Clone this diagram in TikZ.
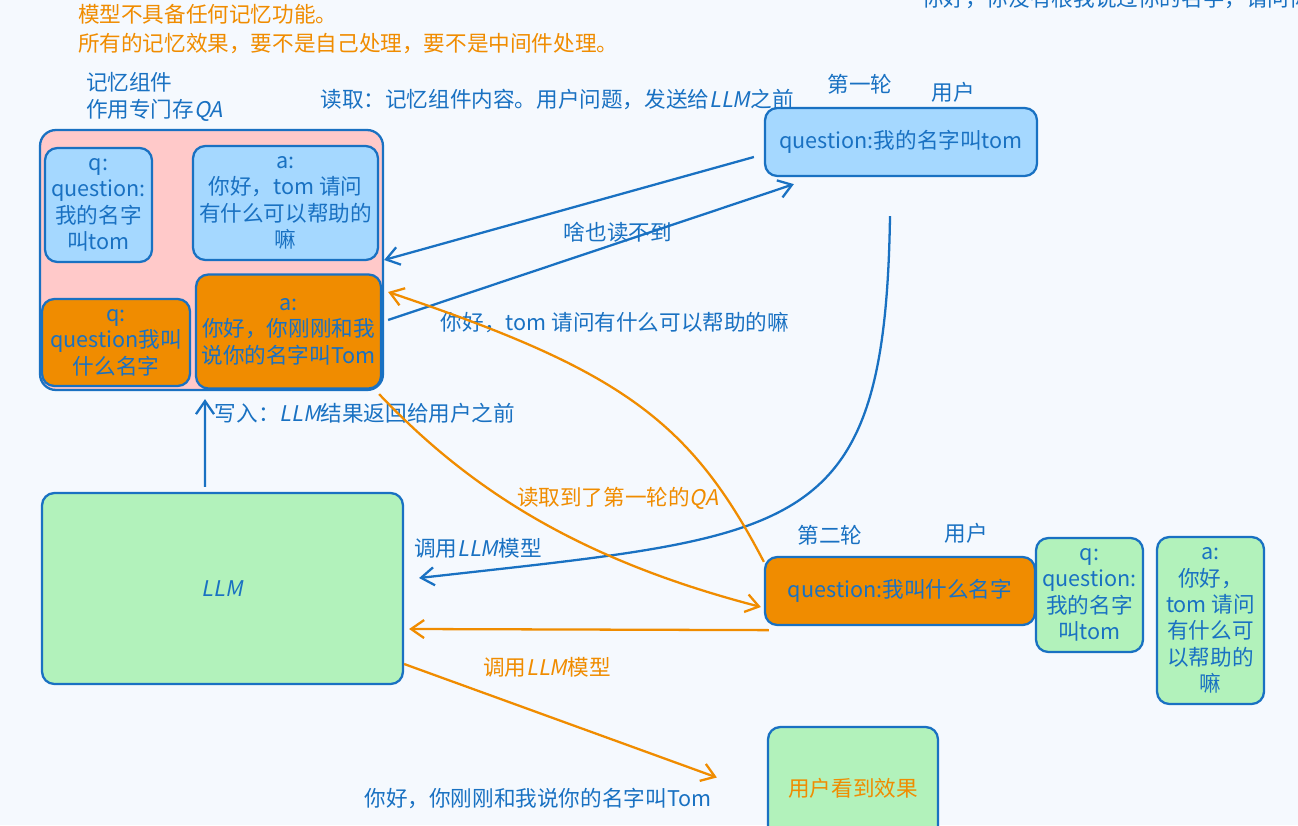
\documentclass[tikz,border=0pt]{standalone}
\usepackage{fontspec}
\setmainfont{Noto Sans CJK SC}[AutoFakeSlant=0.2]
\usepackage{xcolor}
\usepackage{tikz}
\usetikzlibrary{positioning,arrows.meta}
\definecolor{inkblue}{HTML}{1971C2}
\definecolor{inkorange}{HTML}{F08C00}
\definecolor{fillblue}{HTML}{A5D8FF}
\definecolor{fillpink}{HTML}{FFC9C9}
\definecolor{fillgreen}{HTML}{B2F2BB}
\definecolor{paper}{HTML}{F5F9FE}
\newcommand{\llmname}{\textit{LLM}}

\begin{document}
\begin{tikzpicture}[
  x=0.02cm, y=-0.02cm,
  font=\fontsize{12.3pt}{15pt}\selectfont, node distance=2mm,
  card/.style={draw=inkblue, line width=1.3pt, rounded corners=7pt, align=center, inner sep=2pt, text=inkblue},
  lbl/.style={text=inkblue, inner sep=1pt, align=left},
  olbl/.style={text=inkorange, inner sep=1pt, align=left},
  arr/.style={-{Straight Barb[length=2.6mm,width=3.6mm]}, line width=1.3pt, draw=inkblue},
  oarr/.style={arr, draw=inkorange}
]
\useasboundingbox (0,0) rectangle (1298,825);
\fill[paper] (0,0) rectangle (1298,825);

\node[olbl, anchor=west, font=\fontsize{12.3pt}{16.5pt}\selectfont] (notes) at (76,29.5)
  {模型不具备任何记忆功能。\\所有的记忆效果，要不是自己处理，要不是中间件处理。};
\node[lbl, anchor=west] (cut) at (920,-1) {你好，你没有根我说过你的名字，请问你};

% memory component
\node[lbl, anchor=west, font=\fontsize{12.3pt}{15.4pt}\selectfont] (memtitle) at (84,96.5)
  {记忆组件\\作用专门存\textit{QA}};
\node[lbl] (readnote) at (557,100) {读取：记忆组件内容。用户问题，发送给\llmname 之前};
\node[card, fill=fillpink, rounded corners=9pt, minimum width=6.86cm, minimum height=5.2cm] (mem) at (211.5,260) {};
\node[card, fill=fillblue, minimum width=2.14cm, minimum height=2.28cm] (q1) at (98.5,205)
  {q:\\question:\\我的名字\\叫tom};
\node[card, fill=fillblue, minimum width=3.7cm, minimum height=2.28cm] (a1) at (285.5,203)
  {a:\\你好，tom 请问\\有什么可以帮助的\\嘛};
\node[card, fill=inkorange, minimum width=2.96cm, minimum height=1.74cm] (q2) at (116,342.5)
  {q:\\question我叫\\什么名字};
\node[card, fill=inkorange, minimum width=3.7cm, minimum height=2.28cm] (a2) at (288.5,331.5)
  {a:\\你好，你刚刚和我\\说你的名字叫Tom};

% round one
\node[card, fill=fillblue, minimum width=5.44cm, minimum height=1.36cm] (user1) at (901,142)
  {question:我的名字叫tom};
\node[lbl] (round1) at (860,84) {第一轮};
\node[lbl] (who1) at (953,92) {用户};

% round two
\node[card, fill=inkorange, minimum width=5.4cm, minimum height=1.36cm] (user2) at (900,591)
  {question:我叫什么名字};
\node[lbl] (round2) at (830,535) {第二轮};
\node[lbl] (who2) at (966,533) {用户};
\node[card, fill=fillgreen, minimum width=2.14cm, minimum height=2.28cm] (gq) at (1089.5,595)
  {q:\\question:\\我的名字\\叫tom};
\node[card, fill=fillgreen, minimum width=2.14cm, minimum height=3.34cm] (ga) at (1210.5,620.5)
  {a:\\你好，\\tom 请问\\有什么可\\以帮助的\\嘛};

\node[card, fill=fillgreen, minimum width=7.22cm, minimum height=3.82cm] (llm) at (222.5,588.5) {\llmname};
\node[card, fill=fillgreen, text=inkorange, minimum width=3.4cm, minimum height=2.46cm] (result) at (853,788.5)
  {用户看到效果};

\draw[arr] ([xshift=-0.2cm,yshift=-0.3cm]user1.west) -- (mem.east);
\draw[arr] ([xshift=0.08cm,yshift=-1.2cm]mem.east) -- ([xshift=0.6cm,yshift=-0.14cm]user1.south west);
\node[lbl] (nothing) at (618,232) {啥也读不到};
\node[lbl] (answer1) at (615,323) {你好，tom 请问有什么可以帮助的嘛};

\draw[arr] ([xshift=-0.35cm,yshift=0.1cm]llm.north) -- ([xshift=-0.13cm,yshift=-0.16cm]mem.south);
\node[lbl] (writenote) at (365,413) {写入：\llmname 结果返回给用户之前};

\draw[arr] ([xshift=-0.22cm,yshift=-0.78cm]user1.south) .. controls (885,540) and (800,535) .. ([xshift=0.3cm,yshift=0.21cm]llm.east);
\node[lbl] (call1) at (478,548) {调用\llmname 模型};

\draw[oarr] ([xshift=-0.1cm,yshift=-0.06cm]mem.south east) .. controls (470,490) and (580,560) .. ([xshift=-0.06cm,yshift=-0.32cm]user2.west);
\draw[oarr] ([yshift=-0.12cm]user2.north west) .. controls (690,420) and (620,370) .. ([xshift=0.08cm,yshift=-0.64cm]mem.east);
\node[olbl] (readqa) at (618,498) {读取到了第一轮的\textit{QA}};

\draw[oarr] ([xshift=0.1cm,yshift=-0.08cm]user2.south west) -- ([xshift=0.1cm,yshift=-0.81cm]llm.east);
\draw[oarr] ([yshift=-1.51cm]llm.east) -- ([xshift=-1cm,yshift=0.22cm]result.west);
\node[olbl] (call2) at (547,667) {调用\llmname 模型};
\node[lbl] (answer2) at (538,798) {你好，你刚刚和我说你的名字叫Tom};
\end{tikzpicture}
\end{document}
